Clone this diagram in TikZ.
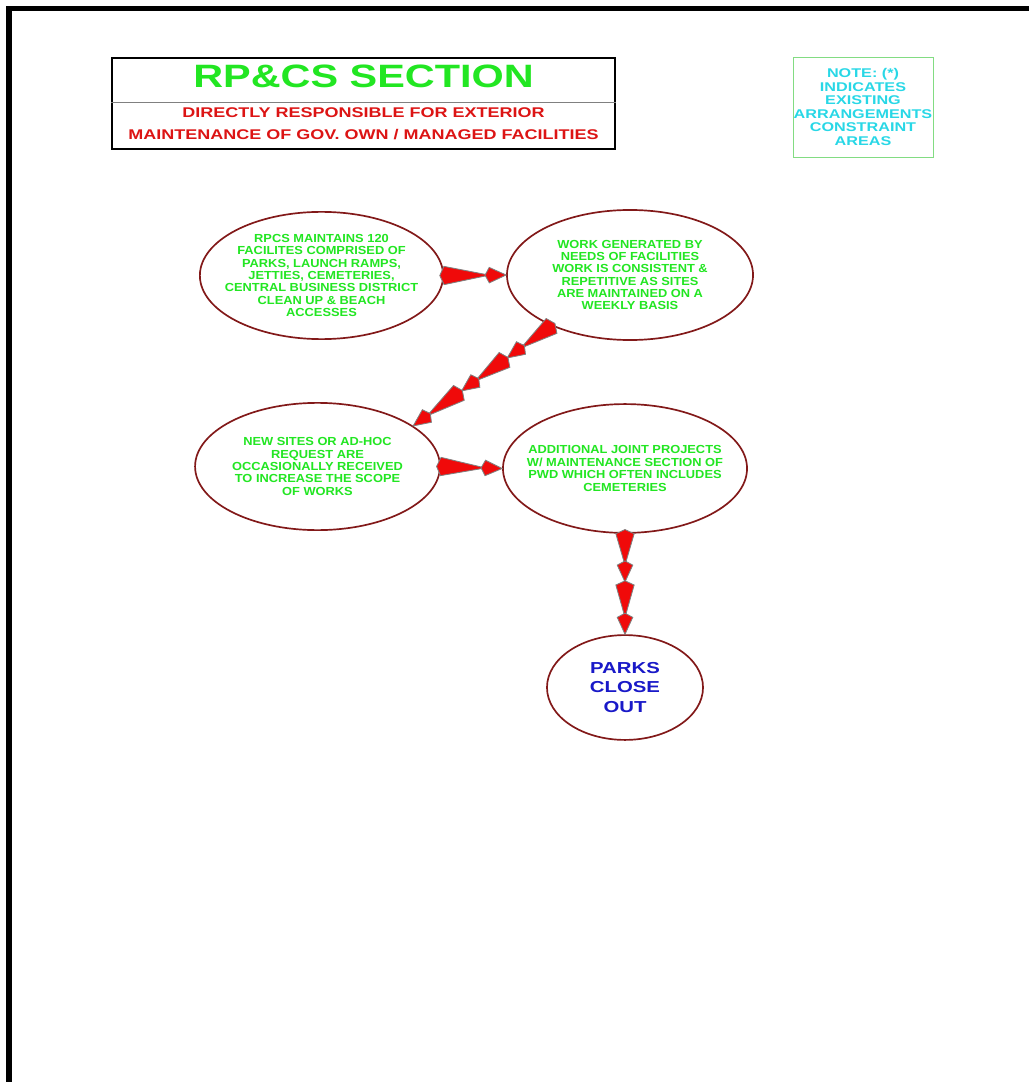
\documentclass[tikz,border=0pt]{standalone}
\usepackage{fontspec}
\setmainfont{Liberation Sans}
\newfontfamily\widesans[FakeStretch=1.28]{Liberation Sans}
\newfontfamily\bubblesans[FakeStretch=1.1]{Liberation Sans}
\usepackage{tikz}
\usetikzlibrary{shapes.geometric, calc}
\usepackage{xcolor}
\definecolor{titlegreen}{RGB}{34,230,34}
\definecolor{subred}{RGB}{220,20,20}
\definecolor{notecyan}{RGB}{40,215,230}
\definecolor{noteframe}{RGB}{130,220,130}
\definecolor{rimred}{RGB}{130,25,25}
\definecolor{arrowred}{RGB}{240,10,10}
\definecolor{parkblue}{RGB}{25,25,200}

% one red wedge + head, from #1 to #2
\newcommand{\redseg}[2]{%
  \coordinate (hb) at ($(#2)!12pt!(#1)$);
  \filldraw[redwedge] ($(#1)!-3pt!(#2)$) -- ($(#1)!6.5pt!90:(#2)$) -- (hb) -- ($(#1)!6.5pt!-90:(#2)$) -- cycle;
  \filldraw[redwedge] ($(#2)!15pt!(#1)$) -- ($(hb)!5.5pt!90:(#2)$) -- (#2) -- ($(hb)!5.5pt!-90:(#2)$) -- cycle;
}

\begin{document}
\begin{tikzpicture}[x=0.025cm, y=-0.025cm,
    bubble/.style={ellipse, draw=rimred, line width=1.2pt, fill=white,
      inner xsep=-30pt, inner ysep=-20pt,
      minimum width=6.1cm, minimum height=3.2cm, align=center, text=titlegreen,
      font=\bubblesans\bfseries\fontsize{8.3}{8.8}\selectfont},
    closeout/.style={bubble, minimum width=3.9cm, minimum height=2.62cm, text=parkblue,
      font=\widesans\bfseries\fontsize{11.3}{14.2}\selectfont},
    titlebox/.style={rectangle, draw=black, line width=1.4pt, inner sep=0pt,
      minimum width=12.575cm, minimum height=2.275cm},
    notebox/.style={rectangle, draw=noteframe, line width=0.6pt, inner sep=0pt,
      minimum width=3.5cm, minimum height=2.5cm, align=center, text=notecyan,
      font=\widesans\bfseries\fontsize{9}{9.6}\selectfont},
    redwedge/.style={fill=arrowred, draw=gray, line width=0.6pt, line join=miter}]
\useasboundingbox (0,0) rectangle (1029,1082);
\draw[line width=4pt] (1029,8.5) -| (9,1082);

% heading
\node[titlebox] (head) at (363.5,103.5) {};
\coordinate (divy) at (0,102);
\draw[gray, line width=0.6pt] (head.west |- divy) -- (head.east |- divy);
\node[text=titlegreen, font=\widesans\bfseries\fontsize{23}{24}\selectfont] (title) at (363.5,76) {RP\&CS SECTION};
\node[text=subred, align=center, font=\widesans\bfseries\fontsize{10}{15.6}\selectfont] (subtitle) at (363.5,123.5)
  {DIRECTLY RESPONSIBLE FOR EXTERIOR\\MAINTENANCE OF GOV. OWN / MANAGED FACILITIES};
\node[notebox] (note) at (863,107) {NOTE: (*)\\INDICATES\\EXISTING\\ARRANGEMENTS\\CONSTRAINT\\AREAS};

% bubbles
\node[bubble, minimum width=6.08cm, minimum height=3.18cm] (maint) at (321.5,275.5)
  {RPCS MAINTAINS 120\\FACILITES COMPRISED OF\\PARKS, LAUNCH RAMPS,\\JETTIES, CEMETERIES,\\CENTRAL BUSINESS DISTRICT\\CLEAN UP \& BEACH\\ACCESSES};
\node[bubble, minimum width=6.15cm, minimum height=3.25cm] (work) at (630,275)
  {WORK GENERATED BY\\NEEDS OF FACILITIES\\WORK IS CONSISTENT \&\\REPETITIVE AS SITES\\ARE MAINTAINED ON A\\WEEKLY BASIS};
\node[bubble, minimum width=6.12cm, minimum height=3.18cm] (adhoc) at (317.5,466.5)
  {NEW SITES OR AD-HOC\\REQUEST ARE\\OCCASIONALLY RECEIVED\\TO INCREASE THE SCOPE\\OF WORKS};
\node[bubble, minimum width=6.1cm, minimum height=3.22cm] (joint) at (625,468.5)
  {ADDITIONAL JOINT PROJECTS\\W/ MAINTENANCE SECTION OF\\PWD WHICH OFTEN INCLUDES\\CEMETERIES};
\node[closeout] (close) at (625,687.5) {PARKS\\CLOSE\\OUT};

% red arrows
\redseg{maint.east}{work.west}
\redseg{adhoc.east}{joint.west}

\coordinate (d0) at (work.213);
\coordinate (d3) at (adhoc.23);
\coordinate (d1) at ($(d0)!0.32!(d3)$);
\coordinate (d1b) at ($(d0)!0.34!(d3)$);
\coordinate (d2) at ($(d0)!0.65!(d3)$);
\coordinate (d2b) at ($(d0)!0.67!(d3)$);
\redseg{d0}{d1}
\redseg{d1b}{d2}
\redseg{d2b}{d3}

\coordinate (v0) at (joint.south);
\coordinate (v2) at (close.north);
\coordinate (v1) at ($(v0)!0.48!(v2)$);
\coordinate (v1b) at ($(v0)!0.51!(v2)$);
\redseg{v0}{v1}
\redseg{v1b}{v2}
\end{tikzpicture}
\end{document}
